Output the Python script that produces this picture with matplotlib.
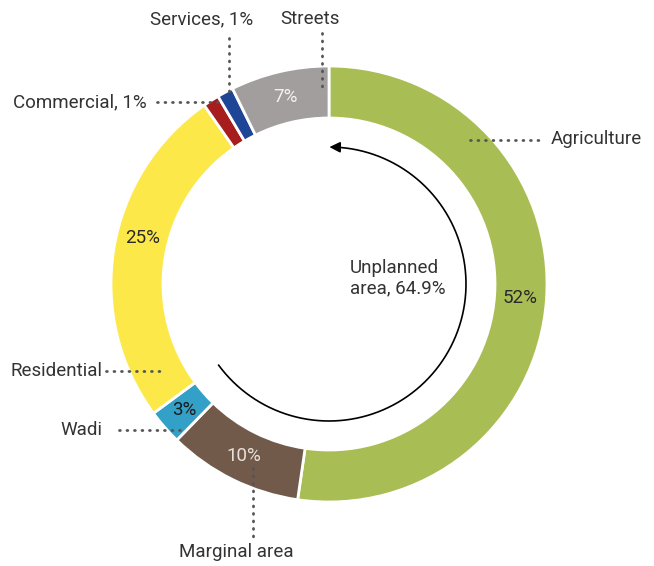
import numpy as np
import matplotlib.pyplot as plt

# shares of the area (clockwise from 12 o'clock)
categories = ['Agriculture', 'Marginal area', 'Wadi', 'Residential', 'Commercial', 'Services', 'Streets']
shares = [52.3, 10.0, 2.6, 25.4, 1.2, 1.2, 7.3]
colors = ['#a9bd55', '#725a4b', '#33a0c8', '#fde84a', '#a71c1c', '#1f4597', '#a19e9d']
pct_colors = ['#2a2a2a', '#e8e0da', '#1a1a1a', '#2a2a2a', None, None, '#f2f2f2']
unplanned_label = 'Unplanned\narea, 64.9%'
unplanned_share = 64.9

plt.rcParams['font.family'] = ['Roboto', 'DejaVu Sans']

W, H = 654, 566
fig = plt.figure(figsize=(W / 100, H / 100), dpi=100)
ax = fig.add_axes([0, 0, 1, 1])

cx, cy = 329, H - 284
R, ring = 218, 52

ax.pie(shares, colors=colors, startangle=90, counterclock=False,
       center=(cx, cy), radius=R, frame=True,
       wedgeprops=dict(width=ring, edgecolor='white', linewidth=2))
ax.set_xlim(0, W)
ax.set_ylim(0, H)
ax.axis('off')

FS = 13.5
# percentage labels in the middle of each ring segment
start = 0.0
rm = R - ring / 2
nudge = {3: 4.5}  # small angular nudge (deg) for the residential label
for i, (share, c) in enumerate(zip(shares, pct_colors)):
    mid = np.radians((start + share / 2) * 3.6 + nudge.get(i, 0))
    start += share
    if c is None:
        continue
    ax.text(cx + rm * np.sin(mid), cy + rm * np.cos(mid), '%.0f%%' % share,
            ha='center', va='center', fontsize=FS, color=c)

# arc arrow for the unplanned part
r_arc = 137
t = np.radians(np.linspace(unplanned_share * 3.6, 1.5, 200))
ax.plot(cx + r_arc * np.sin(t), cy + r_arc * np.cos(t), color='black', lw=1.2)
ax.annotate('', xy=(cx + r_arc * np.sin(np.radians(-1)), cy + r_arc * np.cos(np.radians(-1))),
            xytext=(cx + r_arc * np.sin(np.radians(3)), cy + r_arc * np.cos(np.radians(3))),
            arrowprops=dict(arrowstyle='-|>', color='black', lw=1.2, mutation_scale=16))
ax.text(350, H - 278, unplanned_label, ha='left', va='center', fontsize=FS,
        color='#333333', linespacing=1.2)

# leader lines and outer labels
dot = dict(color='#555555', lw=2, linestyle=(0, (0.3, 2.4)), dash_capstyle='round')
txt = dict(fontsize=FS, color='#333333')

ax.plot([470, 543], [H - 140, H - 140], **dot)
ax.text(551, H - 139, 'Agriculture', ha='left', va='center', **txt)

ax.plot([322, 322], [H - 33, H - 88], **dot)
ax.text(310, H - 19, 'Streets', ha='center', va='center', **txt)

ax.plot([229, 229], [H - 38, H - 96], **dot)
ax.text(202, H - 19, 'Services, 1%', ha='center', va='center', **txt)

ax.plot([157, 218], [H - 102, H - 102], **dot)
ax.text(147, H - 102, 'Commercial, 1%', ha='right', va='center', **txt)

ax.plot([106, 166], [H - 371, H - 371], **dot)
ax.text(102, H - 371, 'Residential', ha='right', va='center', **txt)

ax.plot([119, 180], [H - 430, H - 430], **dot)
ax.text(102, H - 430, 'Wadi', ha='right', va='center', **txt)

ax.plot([253, 253], [H - 468, H - 540], **dot)
ax.text(236, H - 552, 'Marginal area', ha='center', va='center', **txt)

fig.savefig('out.png', dpi=100)
